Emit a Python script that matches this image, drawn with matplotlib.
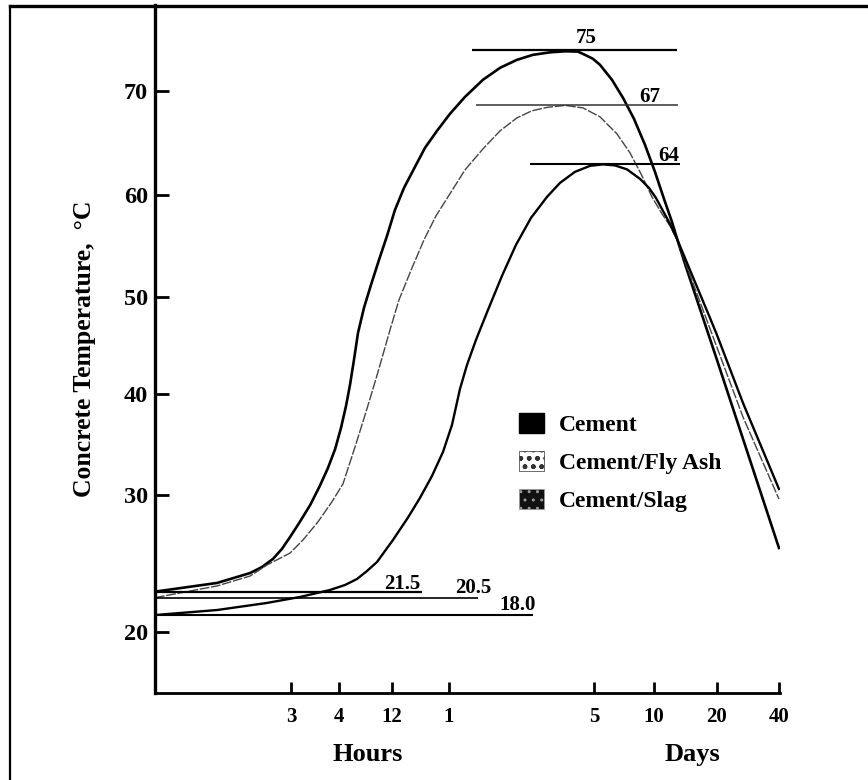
import numpy as np
import matplotlib.pyplot as plt
from matplotlib.patches import Patch
from matplotlib.lines import Line2D

plt.rcParams['font.family'] = ['Liberation Serif', 'DejaVu Serif']
plt.rcParams['font.weight'] = 'bold'

# tick values (time in hours) and their labels
tick_hours = [3, 4, 12, 24, 120, 240, 480, 960]
tick_labels = ['3', '4', '12', '1', '5', '10', '20', '40']
temp_ticks = [20, 30, 40, 50, 60, 70]

# the original axes are drawn "not to scale": spacing of the ticks along each axis
x_anchor_hours = [-100, 0, 3, 4, 12, 24, 120, 240, 480, 960, 2000]
x_anchor_pos = [-4378, 155, 291, 339, 392, 449, 594, 654, 717, 779, 913]
y_anchor_temp = [0, 20, 30, 40, 50, 60, 70, 100]
y_anchor_pos = [-203.5, 68.5, 204.5, 305.5, 402.5, 504.5, 608.5, 920.5]

# curves (hours, deg C)
cement_hours = [0, 1.37, 2.10, 2.36, 2.60, 2.80, 2.98, 3.17, 3.40, 3.60, 3.77, 3.92, 4.30, 5.06,
                5.66, 6.26, 6.87, 7.77, 8.83, 10.04, 11.25, 12.63, 14.53, 16.84, 18.95, 21.47,
                24.66, 34.6, 46.5, 57.8, 69.0, 79.6, 90.9, 100.8, 109.4, 114.0, 119.3, 132, 156,
                178, 200, 222, 243.8, 278.1, 308.6, 335.2, 361.9, 480, 960]
cement_temp = [22.93, 23.57, 24.30, 24.74, 25.33, 26.07, 26.95, 27.98, 29.30, 30.94, 32.72, 34.60,
               36.68, 38.86, 40.98, 43.56, 46.34, 48.92, 51.23, 53.68, 56.03, 58.58, 60.72, 62.74,
               64.57, 66.20, 67.84, 69.47, 71.11, 72.26, 73.03, 73.51, 73.75, 73.85, 73.82, 73.51,
               73.13, 72.55, 71.11, 69.38, 67.36, 64.86, 62.26, 59.66, 57.40, 55.15, 52.99, 43.56,
               26.14]

flyash_hours = [0, 1.37, 2.10, 2.47, 2.98, 3.25, 3.56, 3.85, 4.60, 6.42, 8.08, 9.89, 11.70, 13.47,
                16.21, 18.74, 21.26, 23.79, 34.6, 46.5, 57.8, 69.0, 78.9, 88.9, 100.8, 112.7, 132,
                166, 192, 214, 236, 270.5, 301, 327.6, 426.7, 480, 681.3, 960]
flyash_temp = [22.49, 23.35, 24.08, 24.89, 25.77, 26.73, 28.05, 29.52, 31.14, 34.80, 38.27, 42.32,
               46.65, 49.74, 52.89, 55.64, 57.99, 59.85, 62.45, 64.47, 66.20, 67.45, 68.13, 68.46,
               68.65, 68.41, 67.55, 65.91, 64.09, 62.07, 59.85, 58.19, 57.01, 55.64, 48.71, 44.85,
               37.77, 29.74]

slag_hours = [0, 1.37, 2.47, 3.19, 3.81, 4.91, 6.72, 8.23, 9.74, 12.21, 15.37, 17.89, 20.42, 22.74,
              25.99, 31.28, 35.92, 41.87, 49.82, 59.09, 68.36, 78.29, 88.88, 97.49, 107.4, 117.4,
              138, 162, 186, 212, 230, 247.6, 274.3, 301, 327.6, 453.3, 480, 681.3, 960]
slag_temp = [21.21, 21.58, 22.10, 22.54, 23.05, 23.42, 23.86, 24.45, 25.11, 26.73, 28.38, 29.82,
             31.93, 34.31, 36.98, 40.57, 43.04, 45.62, 48.71, 52.11, 55.15, 57.79, 59.85, 61.20,
             62.26, 62.84, 62.98, 62.88, 62.50, 61.59, 60.72, 59.75, 58.48, 57.21, 55.74, 47.89,
             46.13, 39.16, 30.64]

# placing temperatures and peak temperatures (reference lines)
start_temp = [22.93, 22.49, 21.21]
start_end = [18.3, 43.2, 79.4]
start_labels = ['21.5', '20.5', '18.0']
peak_temp = [73.93, 68.73, 63.06]
peak_start = [39.2, 41.9, 77.6]
peak_end = [327.6, 331.4, 339]
peak_labels = ['75', '67', '64']

legend_labels = ['Cement', 'Cement/Fly Ash', 'Cement/Slag']


def fwd_x(t):
    return np.interp(t, x_anchor_hours, x_anchor_pos)


def inv_x(p):
    return np.interp(p, x_anchor_pos, x_anchor_hours)


def fwd_y(v):
    return np.interp(v, y_anchor_temp, y_anchor_pos)


def inv_y(p):
    return np.interp(p, y_anchor_pos, y_anchor_temp)


fig = plt.figure(figsize=(8.68, 7.8), dpi=100)
ax = fig.add_axes([155 / 868, 87 / 780, 625 / 868, 688 / 780])
ax.set_xscale('function', functions=(fwd_x, inv_x))
ax.set_yscale('function', functions=(fwd_y, inv_y))

ax.plot(cement_hours, cement_temp, color='black', lw=1.9, solid_joinstyle='round')
ax.plot(flyash_hours, flyash_temp, color='#444444', lw=1.0, ls=(0, (7, 1.2)))
ax.plot(slag_hours, slag_temp, color='black', lw=1.7, solid_joinstyle='round')

ax.hlines(start_temp, 0, start_end, colors='black', lw=[1.6, 1.2, 1.5])
ax.hlines(peak_temp, peak_start, peak_end, colors=['black', '#333333', 'black'], lw=[1.6, 1.1, 1.5])

# value labels
ax.text(115, 74.6, peak_labels[0], ha='center', va='baseline', fontsize=15)
ax.text(232, 69.0, peak_labels[1], ha='center', va='baseline', fontsize=15)
ax.text(297, 63.3, peak_labels[2], ha='center', va='baseline', fontsize=15)
ax.text(14.2, 23.1, start_labels[0], ha='center', va='baseline', fontsize=15)
ax.text(39.9, 22.85, start_labels[1], ha='center', va='baseline', fontsize=15)
ax.text(69.3, 21.6, start_labels[2], ha='center', va='baseline', fontsize=15)

ax.set_xlim(0, 968)
ax.set_ylim(15.48, 78.3)
ax.set_xticks(tick_hours)
ax.set_xticklabels(tick_labels)
ax.set_yticks(temp_ticks)
ax.minorticks_off()
ax.tick_params(axis='x', direction='in', length=8, width=2, labelsize=15, pad=10)
ax.tick_params(axis='y', direction='in', length=10, width=2, labelsize=17.5, pad=5)
for s in ['top', 'right']:
    ax.spines[s].set_visible(False)
ax.spines['left'].set_linewidth(2.4)
ax.spines['bottom'].set_linewidth(2.0)

ax.set_ylabel('Concrete Temperature,  \u00b0C', fontsize=18.5, fontweight='bold', labelpad=20)
ax.text(8.4, -0.09, 'Hours', transform=ax.get_xaxis_transform(), ha='center', va='center',
        fontsize=19)
ax.text(385, -0.09, 'Days', transform=ax.get_xaxis_transform(), ha='center', va='center',
        fontsize=19)

handles = [Patch(facecolor='black', edgecolor='black'),
           Patch(facecolor='white', edgecolor='#333333', hatch='oo..', lw=0.5),
           Patch(facecolor='#111111', edgecolor='#999999', hatch='..', lw=0.5)]
ax.legend(handles, legend_labels, loc='upper left', bbox_to_anchor=(0.5824, 0.4075),
          frameon=False, fontsize=17, handlelength=1.05, handleheight=0.95,
          handletextpad=0.65, labelspacing=0.62, borderpad=0, borderaxespad=0)

# outer frame of the scanned figure
fig.add_artist(Line2D([10 / 868, 1], [1 - 6 / 780, 1 - 6 / 780], color='black', lw=2.4))
fig.add_artist(Line2D([10 / 868, 10 / 868], [0, 1 - 6 / 780], color='black', lw=1.6))

fig.savefig('out.png', dpi=100)
